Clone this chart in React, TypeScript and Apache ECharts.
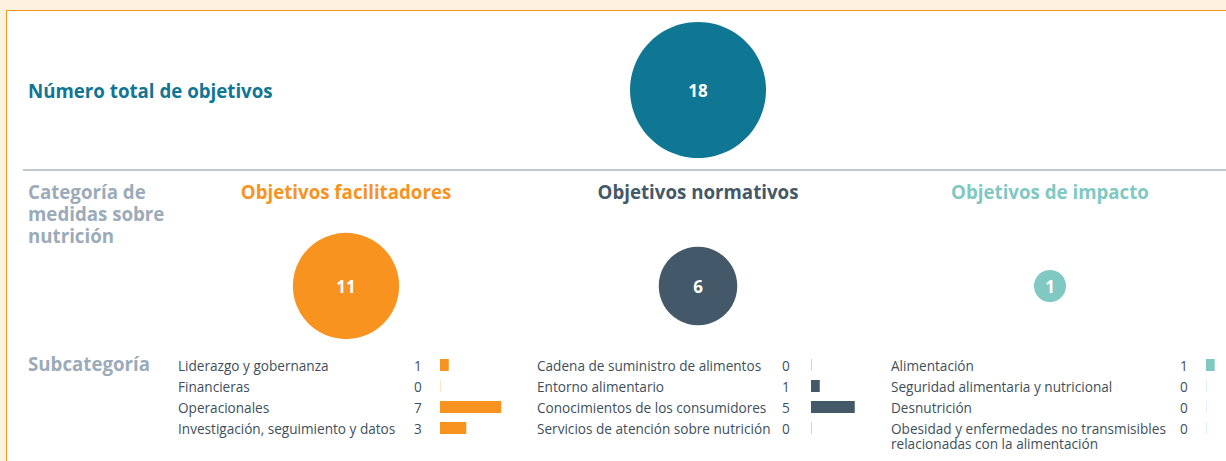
import React, { useEffect, useRef } from 'react';
import * as echarts from 'echarts';

const TOTAL_LABEL = 'Número total de objetivos';
const TOTAL_VALUE = 18;
const CATEGORY_TITLE = 'Categoría de\nmedidas sobre\nnutrición';
const SUBCATEGORY_TITLE = 'Subcategoría';
const CATEGORY_NAMES = ['Objetivos facilitadores', 'Objetivos normativos', 'Objetivos de impacto'];
const CATEGORY_VALUES = [11, 6, 1];
const CATEGORY_COLORS = ['#f7931e', '#435868', '#80c8c2'];
const TOTAL_COLOR = '#0f7694';

const SUB_FACILITADORES = ['Liderazgo y gobernanza', 'Financieras', 'Operacionales', 'Investigación, seguimiento y datos'];
const SUB_FACILITADORES_VALUES = [1, 0, 7, 3];
const SUB_NORMATIVOS = ['Cadena de suministro de alimentos', 'Entorno alimentario', 'Conocimientos de los consumidores', 'Servicios de atención sobre nutrición'];
const SUB_NORMATIVOS_VALUES = [0, 1, 5, 0];
const SUB_IMPACTO = ['Alimentación', 'Seguridad alimentaria y nutricional', 'Desnutrición', 'Obesidad y enfermedades no transmisibles\nrelacionadas con la alimentación'];
const SUB_IMPACTO_VALUES = [1, 0, 0, 0];

const FONT = '"Open Sans"';
const GREY = '#9babb9';
const TEXT_DARK = '#3e4f5c';
const TITLE_SIZE = 18.7;
const LABEL_SIZE = 13.6;

export default function App() {
  const ref = useRef<HTMLDivElement>(null);
  useEffect(() => {
    document.body.style.margin = '0';
    if (!ref.current) return;
    const chart = echarts.init(ref.current, null, { renderer: 'svg' });

    const maxDiameter = 136;
    const size = (v: number) => maxDiameter * Math.sqrt(v / TOTAL_VALUE);
    const titleFont = { fontFamily: FONT, fontSize: TITLE_SIZE, fontWeight: 'bold' as const };

    const subGroups = [
      { names: SUB_FACILITADORES, values: SUB_FACILITADORES_VALUES, left: 440, nameMargin: 262, valueMargin: 26 },
      { names: SUB_NORMATIVOS, values: SUB_NORMATIVOS_VALUES, left: 811, nameMargin: 274, valueMargin: 29 },
      { names: SUB_IMPACTO, values: SUB_IMPACTO_VALUES, left: 1206, nameMargin: 315, valueMargin: 26 },
    ];

    const grids: any[] = [
      { left: 630, top: 22, width: 136, height: 136, outerBoundsMode: 'none', containLabel: false },
      { left: 170, top: 210, width: 1056, height: 152, outerBoundsMode: 'none', containLabel: false },
    ];
    const xAxes: any[] = [
      { gridIndex: 0, type: 'category', data: ['total'], show: false },
      {
        gridIndex: 1,
        type: 'category',
        position: 'top',
        data: CATEGORY_NAMES.map((n, i) => ({ value: n, textStyle: { ...titleFont, color: CATEGORY_COLORS[i] } })),
        axisLine: { show: false },
        axisTick: { show: false },
        axisLabel: { interval: 0, margin: 9, ...titleFont },
      },
    ];
    const yAxes: any[] = [
      { gridIndex: 0, type: 'category', data: ['total'], show: false },
      { gridIndex: 1, type: 'category', data: ['categoria'], show: false },
    ];
    const circleLabel = { show: true, position: 'inside', color: '#fff', fontFamily: FONT, fontSize: 17, fontWeight: 'bold' };
    const series: any[] = [
      {
        type: 'scatter',
        xAxisIndex: 0,
        yAxisIndex: 0,
        data: [[0, 0, TOTAL_VALUE]],
        symbolSize: (d: number[]) => size(d[2]),
        itemStyle: { color: TOTAL_COLOR, opacity: 1 },
        label: { ...circleLabel, formatter: (p: any) => String(p.data[2]) },
        silent: true,
      },
      {
        type: 'scatter',
        xAxisIndex: 1,
        yAxisIndex: 1,
        data: CATEGORY_VALUES.map((v, i) => ({ value: [i, 0, v], itemStyle: { color: CATEGORY_COLORS[i] } })),
        symbolSize: (d: number[]) => size(d[2]),
        itemStyle: { opacity: 1 },
        label: { ...circleLabel, formatter: (p: any) => String(p.value[2]) },
        silent: true,
      },
    ];

    subGroups.forEach((g, gi) => {
      const gridIndex = grids.length;
      grids.push({ left: g.left, top: 354.5, width: 87.5, height: 84, outerBoundsMode: 'none', containLabel: false });
      xAxes.push({ gridIndex, type: 'value', min: 0, max: 10, show: false });
      const nameAxisIndex = yAxes.length;
      yAxes.push({
        gridIndex,
        type: 'category',
        position: 'left',
        inverse: true,
        data: g.names,
        axisLine: { show: false },
        axisTick: { show: false },
        axisLabel: {
          interval: 0,
          align: 'left',
          margin: g.nameMargin,
          color: TEXT_DARK,
          fontFamily: FONT,
          fontSize: LABEL_SIZE,
          lineHeight: 15,
          // multi-line names: keep the first line on the row, the rest below it
          formatter: (v: string) => (v.includes('\n') ? '\n' + v : v),
        },
      });
      yAxes.push({
        gridIndex,
        type: 'category',
        position: 'left',
        inverse: true,
        data: g.values.map((v) => String(v)),
        axisLine: { show: false },
        axisTick: { show: false },
        axisLabel: { interval: 0, align: 'left', margin: g.valueMargin, color: TEXT_DARK, fontFamily: FONT, fontSize: LABEL_SIZE },
      });
      series.push({
        type: 'bar',
        xAxisIndex: gridIndex,
        yAxisIndex: nameAxisIndex,
        barWidth: 12,
        barMinHeight: 1,
        data: g.values.map((v) => ({ value: v, itemStyle: { color: CATEGORY_COLORS[gi], opacity: v === 0 ? 0.25 : 1 } })),
        silent: true,
      });
    });

    chart.setOption({
      animation: false,
      backgroundColor: 'transparent',
      grid: grids,
      xAxis: xAxes,
      yAxis: yAxes,
      series,
      graphic: [
        { type: 'line', shape: { x1: 23, y1: 170, x2: 1226, y2: 170 }, style: { stroke: '#a7b4c0', lineWidth: 1.5 } },
        { type: 'text', x: 28, y: 90, style: { text: TOTAL_LABEL, fill: TOTAL_COLOR, font: `bold ${TITLE_SIZE}px ${FONT}`, verticalAlign: 'middle' } },
        { type: 'text', x: 28, y: 180, style: { text: CATEGORY_TITLE, fill: GREY, font: `bold ${TITLE_SIZE}px ${FONT}`, lineHeight: 22, verticalAlign: 'top' } },
        { type: 'text', x: 28, y: 363, style: { text: SUBCATEGORY_TITLE, fill: GREY, font: `bold ${TITLE_SIZE}px ${FONT}`, verticalAlign: 'middle' } },
      ],
    });
    return () => chart.dispose();
  }, []);

  return (
    <div style={{ position: 'relative', width: 1226, height: 461, background: '#fdf1df', overflow: 'hidden' }}>
      <div style={{ position: 'absolute', left: 6, top: 10, width: 1300, height: 500, background: '#fff', border: '1.5px solid #f7931e', boxSizing: 'border-box' }} />
      <div ref={ref} style={{ position: 'absolute', left: 0, top: 0, width: 1226, height: 461 }} />
    </div>
  );
}
